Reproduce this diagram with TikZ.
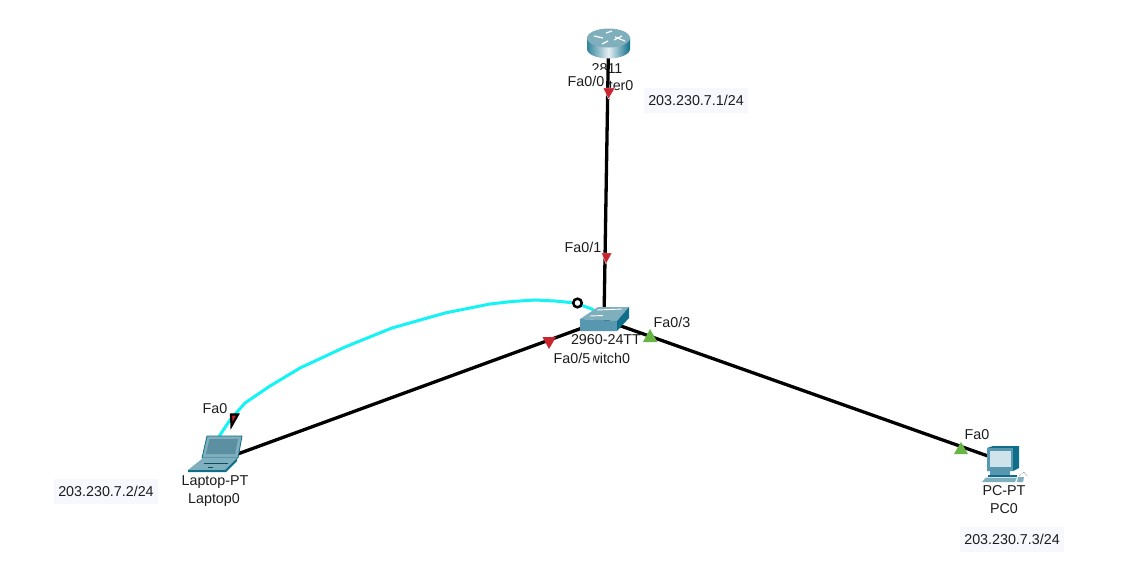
\documentclass[tikz,border=0pt]{standalone}
\usepackage{fontspec}
\setmainfont{Liberation Sans}
\definecolor{tealdark}{HTML}{0F6E8A}
\definecolor{tealmid}{HTML}{5797AF}
\definecolor{teallight}{HTML}{7FAEBD}
\definecolor{ipbg}{HTML}{F6F8FE}
\definecolor{portred}{HTML}{C9252F}
\definecolor{portgreen}{HTML}{69B544}
\definecolor{txt}{HTML}{1C1C1C}
\definecolor{cyanlink}{HTML}{14F4F4}
\definecolor{screenpc}{HTML}{CFE3EB}
\definecolor{screenlap}{HTML}{5C8FA1}
\tikzset{
  lbl/.style={font=\fontsize{14.3}{16}\selectfont,text=txt,inner sep=0pt},
  portlbl/.style={lbl,fill=white,inner xsep=2.5pt,minimum height=22pt},
  iplbl/.style={lbl,fill=ipbg,minimum width=104pt,minimum height=25pt},
  linkline/.style={draw=black,line width=3.3pt},
  cyanline/.style={draw=cyanlink,line width=3pt,line join=round},
  redport/.style={fill=portred},
  greenport/.style={fill=portgreen},
}
\begin{document}
\begin{tikzpicture}[x=1pt,y=-1pt]
\useasboundingbox[fill=white] (0,0) rectangle (1122,579);
% device anchors
\coordinate (router) at (608.5,44);
\coordinate (switch) at (604,320);
\coordinate (laptop) at (213,463);
\coordinate (pc) at (1002,461);
% device labels
\node[lbl] (rmodel) at (607,69) {2811};
\node[lbl] (rname) at (608,86) {Router0};
\node[lbl] (smodel) at (606,340) {2960-24TT};
\node[lbl] (sname) at (605,358) {Switch0};
\node[lbl] (lmodel) at (215,482) {Laptop-PT};
\node[lbl] (lname) at (214,500) {Laptop0};
\node[lbl] (pmodel) at (1004,491) {PC-PT};
\node[lbl] (pname) at (1004,509) {PC0};
% port labels
\node[portlbl] (p00) at (586,81) {Fa0/0};
\node[portlbl] (p01) at (583,247) {Fa0/1};
\node[portlbl] (p05) at (572,358) {Fa0/5};
\node[portlbl] (p03) at (672,322) {Fa0/3};
\node[portlbl] (pl0) at (215,409) {Fa0};
\node[portlbl] (pp0) at (977,435) {Fa0};
% addresses
\node[iplbl] (ip1) at (696,100) {203.230.7.1/24};
\node[iplbl] (ip2) at (106,491) {203.230.7.2/24};
\node[iplbl] (ip3) at (1012,539) {203.230.7.3/24};
% links
\draw[linkline] (router) -- (switch);
\draw[linkline] (switch) -- (laptop);
\draw[linkline] (switch) -- (pc);
\draw[cyanline] (switch) -- (592,309) -- (575,303) -- (555,301) -- (535,300) -- (512,301.5) -- (490,304) -- (445,313) -- (392,328) -- (345,347) -- (300,368) -- (270,386) -- (245,403) -- (230,420) -- (220,435) -- (laptop);
% port markers
\filldraw[draw=white,line width=.3pt,redport] (603,88) -- (615,88) -- (608.5,99) -- cycle;
\filldraw[draw=white,line width=.3pt,redport] (601.5,253) -- (612,253) -- (606,264) -- cycle;
\fill[redport] (542.5,337) -- (556,337) -- (549,349) -- cycle;
\fill[greenport] (643,342) -- (657.5,342) -- (650,329) -- cycle;
\fill[greenport] (954,454) -- (968,454) -- (961,442) -- cycle;
\filldraw[draw=black,line width=2.2pt,line join=miter,fill=portred] (231,414.5) -- (238,414.5) -- (231.5,426) -- cycle;
\filldraw[draw=black,line width=2.5pt,fill=white] (577.5,303) circle (4.3);
% router icon
\path[left color=tealdark!85!white,right color=tealdark,middle color=white!80!teallight] (587,38) -- (587,49) arc[start angle=180,end angle=0,x radius=21.5,y radius=9.5] -- (630,38) -- cycle;
\fill[teallight] (608.5,38) ellipse[x radius=21.5,y radius=9.5];
\draw[white,line width=1.2pt] (594,36) -- (603,38) (622,36) -- (614,40) (606,33) -- (612,31) (602,44) -- (608,41);
\draw[white,line width=1.2pt] (615,37) -- (625,41);
% switch icon
\fill[teallight] (580,319) -- (598,307) -- (629,307) -- (617,321) -- cycle;
\fill[tealmid] (580,319) -- (617,321) -- (617,331) -- (580,331) -- cycle;
\fill[tealdark] (617,321) -- (629,307) -- (629,318) -- (617,331) -- cycle;
\draw[white,line width=.9pt] (597,310) -- (622,309) (590,316) -- (603,315.5);
% laptop icon
\fill[teallight] (207,436) -- (242,436) -- (238,458) -- (202,458) -- cycle;
\draw[tealdark,line width=.8pt] (207,436) -- (242,436) -- (238,458) -- (202,458) -- cycle;
\fill[screenlap] (209.5,439) -- (238,439) -- (235,454) -- (206,454) -- cycle;
\fill[teallight] (203,458) -- (237,458) -- (225,470) -- (188,470) -- cycle;
\fill[tealdark] (188,470) -- (225,470) -- (237,458) -- (237,461) -- (226,472) -- (188,472) -- cycle;
\draw[tealdark!70!black,line width=.5pt] (204,463) -- (228,463) (208,467) -- (213,467);
% pc icon
\fill[tealdark] (987,448) -- (993,446) -- (1019,446) -- (1019,468) -- (1013,471) -- (987,471) -- cycle;
\fill[tealmid] (987,448) rectangle (1013,471);
\fill[screenpc] (990,451) rectangle (1011,467);
\fill[tealmid] (990,471) rectangle (1010,475);
\fill[tealdark] (988,475) -- (1017,475) -- (1017,477) -- (988,477) -- cycle;
\fill[teallight] (986,477.5) -- (1017,477.5) -- (1015,482) -- (982,482) -- cycle;
\draw[black!40,line width=.8pt,densely dotted] (1019,476) -- (1024,472) -- (1027,476);
\fill[teallight] (1018,477) -- (1024,477) -- (1023,482) -- (1017,482) -- cycle;
\end{tikzpicture}
\end{document}
